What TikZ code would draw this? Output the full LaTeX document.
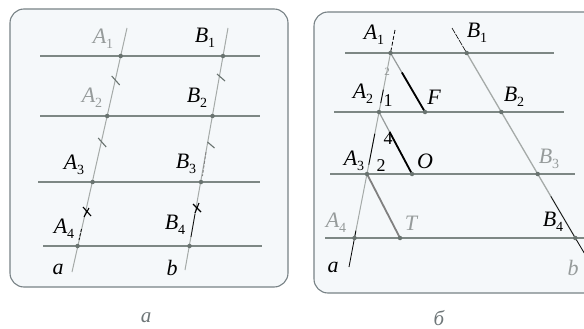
\documentclass[tikz,border=0pt]{standalone}
\usepackage{fontspec}
\setmainfont{Liberation Serif}
\usetikzlibrary{calc}
\definecolor{panelfill}{RGB}{245,248,250}
\definecolor{frame}{RGB}{120,130,134}
\definecolor{hgray}{RGB}{125,135,132}
\definecolor{tgray}{RGB}{165,170,168}
\definecolor{lgray}{RGB}{150,155,155}
\definecolor{dotgray}{RGB}{105,115,112}
\definecolor{capgray}{RGB}{110,118,120}
\newcommand\lab[2]{#1\raisebox{-5pt}{\upshape\fontsize{14}{14}\selectfont #2}}
\begin{document}
\begin{tikzpicture}[x=1pt,y=-1pt,
  panel/.style={draw=frame,line width=1.1pt,fill=panelfill,rounded corners=14pt},
  hline/.style={draw=hgray,line width=2.6pt},
  trans/.style={draw=tgray,line width=1pt},
  blk/.style={draw=black,line width=0.8pt},
  seg/.style={draw=black,line width=1.8pt},
  gseg/.style={draw=lgray,line width=1.8pt},
  tick/.style={draw=dotgray,line width=1.1pt},
  pt/.style={circle,fill=dotgray,inner sep=0pt,minimum size=4.5pt},
  lbl/.style={font=\itshape\fontsize{22}{22}\selectfont,inner sep=0pt,text=black},
  glbl/.style={lbl,text=lgray},
  num/.style={font=\fontsize{18}{18}\selectfont,inner sep=0pt},
  captxt/.style={font=\itshape\fontsize{21}{21}\selectfont,inner sep=0pt,text=capgray}]
\useasboundingbox (0,0) rectangle (584,329);
\clip (0,0) rectangle (584,329);
\fill[white] (0,0) rectangle (584,329);

% ---------------- panel a ----------------
\draw[panel] (10,9) rectangle (288,287);
\coordinate (ha1) at (40,56);  \coordinate (hb1) at (260,56);
\coordinate (ha2) at (40,116); \coordinate (hb2) at (260,116);
\coordinate (ha3) at (38,182); \coordinate (hb3) at (260,182);
\coordinate (ha4) at (43,246); \coordinate (hb4) at (262,246);
\draw[hline] (ha1) -- (hb1);
\draw[hline] (ha2) -- (hb2);
\draw[hline] (ha3) -- (hb3);
\draw[hline] (ha4) -- (hb4);
\coordinate (at) at (127,28); \coordinate (ab) at (72,272);
\coordinate (bt) at (228,28); \coordinate (bb) at (185,270);
\draw[trans] (at) -- (ab);
\draw[trans] (bt) -- (bb);
\coordinate (aA1) at (120.7,56); \coordinate (aA2) at (107.2,116);
\coordinate (aA3) at (92.6,182);  \coordinate (aA4) at (77.6,246);
\coordinate (aB1) at (223,56);    \coordinate (aB2) at (212.5,116);
\coordinate (aB3) at (201,182);   \coordinate (aB4) at (189.5,246);
% dashed / black bits
\draw[blk,dashed,dash pattern=on 3pt off 1.5pt] (81.5,229) -- (79,240);
\draw[blk,dashed,dash pattern=on 3pt off 1.5pt,draw=gray] (206,152) -- (202.5,176);
\draw[blk,line width=0.7pt] (195,214) -- (191,237);
% ticks
\draw[tick] (aA1) ++(-9,20) -- ++(8,9);
\draw[tick] (aA2) ++(-9,22) -- ++(8,9);
\draw[tick,draw=black] (87,212) ++(-4,-5) -- ++(8,9);
\draw[tick,draw=black] (87,212) ++(-3,5) -- ++(5,-9);
\draw[tick] (aB1) ++(-6,18) -- ++(8,7);
\draw[tick] (aB2) ++(-5,26) -- ++(7,6);
\draw[tick,draw=black] (197,208) ++(-4,-4) -- ++(8,8);
\draw[tick,draw=black] (197,208) ++(-2,5) -- ++(4,-10);
\foreach \p in {aA1,aA2,aA3,aA4,aB1,aB2,aB3,aB4} \node[pt] at (\p) {};
\node[glbl] (lA1) at (103,39) {\lab{A}{1}};
\node[lbl]  (lB1) at (205,38) {\lab{B}{1}};
\node[glbl] (lA2) at (92,98) {\lab{A}{2}};
\node[lbl]  (lB2) at (197,98) {\lab{B}{2}};
\node[lbl]  (lA3) at (74,165) {\lab{A}{3}};
\node[lbl]  (lB3) at (186,164) {\lab{B}{3}};
\node[lbl]  (lA4) at (64,229) {\lab{A}{4}};
\node[lbl]  (lB4) at (175,225) {\lab{B}{4}};
\node[lbl]  (la) at (58,269) {a};
\node[lbl]  (lb) at (172,268) {b};
\node[captxt] (capa) at (146,318) {a};

% ---------------- panel b ----------------
\draw[panel] (600,293) -- (314,293) -- (314,12) -- (600,12);
\coordinate (h1l) at (345,53);  \coordinate (h1r) at (554,53);
\coordinate (h2l) at (334,112); \coordinate (h2r) at (564,112);
\coordinate (h3l) at (330,174); \coordinate (h3r) at (575,174);
\coordinate (h4l) at (325,238); \coordinate (h4r) at (590,238);
\draw[hline] (h1l) -- (h1r);
\draw[hline] (h2l) -- (h2r);
\draw[hline] (h3l) -- (h3r);
\draw[hline] (h4l) -- (h4r);
\coordinate (A1) at (390.5,53); \coordinate (A2) at (379,112);
\coordinate (A3) at (367,174);  \coordinate (A4) at (354.5,238);
\coordinate (B1) at (466.7,53); \coordinate (B2) at (501.3,112);
\coordinate (B3) at (537.7,174); \coordinate (B4) at (575.3,238);
\coordinate (F) at (425,112); \coordinate (O) at (412,174); \coordinate (T) at (400,238);
\coordinate (pat) at (395,30); \coordinate (pab) at (349,267);
\coordinate (pbt) at (452,28); \coordinate (pbb) at (592,266);
% line a
\draw[trans] (A1) -- (A4);
\draw[blk,dashed,dash pattern=on 4pt off 2pt] (pat) -- (A1);
\draw[blk] ($(A1)!0.62!(A2)$) -- ($(A1)!0.85!(A2)$);
\draw[blk] ($(A2)!0.35!(A3)$) -- ($(A2)!0.85!(A3)$);
\draw[blk] (A4) -- (pab);
\draw[blk] ($(A4)!-0.25!(pab)$) -- (A4);
% line b
\draw[blk,line width=0.6pt,dash pattern=on 6pt off 1pt] (pbt) -- (B1);
\draw[trans,line width=1.3pt] (B1) -- (B4);
\draw[blk,line width=0.6pt] ($(B3)!0.35!(B4)$) -- (B4);
\draw[blk] (B4) -- (pbb);
% segments
\draw[gseg,line width=1.2pt] (A1) -- (F);
\draw[seg] ($(A1)!0.33!(F)$) -- (F);
\draw[gseg,line width=1.2pt] (A2) -- (O);
\draw[seg] ($(A2)!0.32!(O)$) -- (O);
\draw[gseg,draw=gray] (A3) -- (T);
\foreach \p in {A1,A2,A3,A4,B1,B2,B3,B4,F,O,T} \node[pt] at (\p) {};
\node[lbl]  (mA1) at (374,35) {\lab{A}{1}};
\node[lbl]  (mB1) at (477,33) {\lab{B}{1}};
\node[lbl]  (mA2) at (363,94) {\lab{A}{2}};
\node[lbl]  (mB2) at (514,97) {\lab{B}{2}};
\node[lbl]  (mA3) at (354,161) {\lab{A}{3}};
\node[glbl] (mB3) at (549,159) {\lab{B}{3}};
\node[glbl] (mA4) at (336,223) {\lab{A}{4}};
\node[lbl]  (mB4) at (553,222) {\lab{B}{4}};
\node[lbl]  (mF) at (434,97) {F};
\node[lbl]  (mO) at (425,161) {O};
\node[glbl] (mT) at (411,223) {T};
\node[lbl]  (ma) at (333,267) {a};
\node[glbl] (mb) at (573,268) {b};
\node[num,text=lgray,font=\fontsize{11}{11}\selectfont] (n2a) at (387,72) {2};
\node[num] (n1) at (388,101) {1};
\node[num] (n4) at (388,139) {4};
\node[num] (n2) at (381,166) {2};
\node[captxt] (capb) at (439,318) {б};
\end{tikzpicture}
\end{document}
